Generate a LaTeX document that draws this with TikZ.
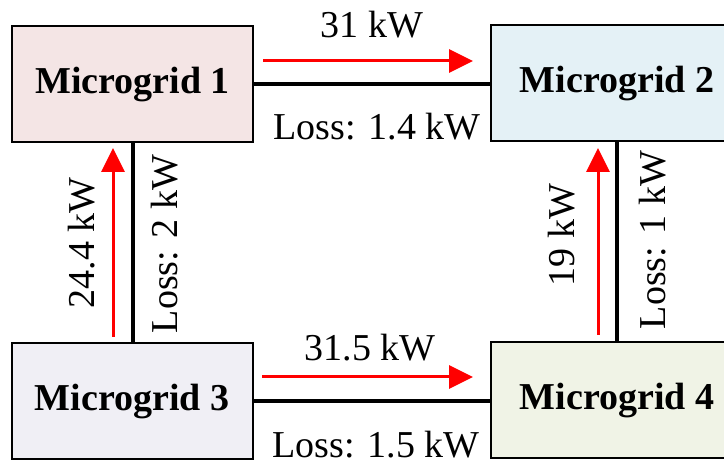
\documentclass[tikz,border=0pt]{standalone}
\usepackage{fontspec}
\setmainfont{Liberation Serif}
\usetikzlibrary{arrows.meta}
\definecolor{mgone}{RGB}{244,229,229}
\definecolor{mgtwo}{RGB}{228,241,246}
\definecolor{mgthree}{RGB}{240,239,245}
\definecolor{mgfour}{RGB}{240,243,230}

\begin{document}
\begin{tikzpicture}[x=1pt,y=1pt,
  grid/.style={draw,line width=2pt,minimum width=241pt,minimum height=116pt,
    font=\fontsize{38}{40}\selectfont\bfseries},
  tie/.style={line width=4pt},
  flow/.style={red,line width=3pt,-{Triangle[length=24pt,width=23pt]}},
  lab/.style={font=\fontsize{38}{40}\selectfont,inner sep=0pt}]
\useasboundingbox (0,0) rectangle (724,464);
\node[grid,fill=mgone] (m1) at (132.5,379.5) {Microgrid 1};
\node[grid,fill=mgtwo,minimum width=252pt] (m2) at (617,380.5) {Microgrid 2};
\node[grid,fill=mgthree] (m3) at (132,62.5) {Microgrid 3};
\node[grid,fill=mgfour,minimum width=252pt] (m4) at (617,63.5) {Microgrid 4};
\draw[tie] (m1.east|-0,380) -- (m2.west|-0,380);
\draw[tie] (m3.east|-0,63) -- (m4.west|-0,63);
\draw[tie] (133,0|-m1.south) -- (133,0|-m3.north);
\draw[tie] (617,0|-m2.south) -- (617,0|-m4.north);
\coordinate (a1) at (263,403);
\coordinate (b1) at (473,403);
\coordinate (a2) at (262,87);
\coordinate (b2) at (473,87);
\coordinate (a3) at (113,127);
\coordinate (b3) at (113,316);
\coordinate (a4) at (598,129);
\coordinate (b4) at (598,316);
\draw[flow] (a1) -- (b1);
\draw[flow] (a2) -- (b2);
\draw[flow] (a3) -- (b3);
\draw[flow] (a4) -- (b4);
\node[lab] (f12) at (372,439) {31 kW};
\node[lab] (l12) at (377,337) {Loss: 1.4 kW};
\node[lab] (f34) at (370,116) {31.5 kW};
\node[lab] (l34) at (376,19) {Loss: 1.5 kW};
\node[lab,rotate=90] (f31) at (82,221) {24.4 kW};
\node[lab,rotate=90] (l31) at (165,220) {Loss: 2 kW};
\node[lab,rotate=90] (f42) at (562,229) {19 kW};
\node[lab,rotate=90] (l42) at (653,224) {Loss: 1 kW};
\end{tikzpicture}
\end{document}
